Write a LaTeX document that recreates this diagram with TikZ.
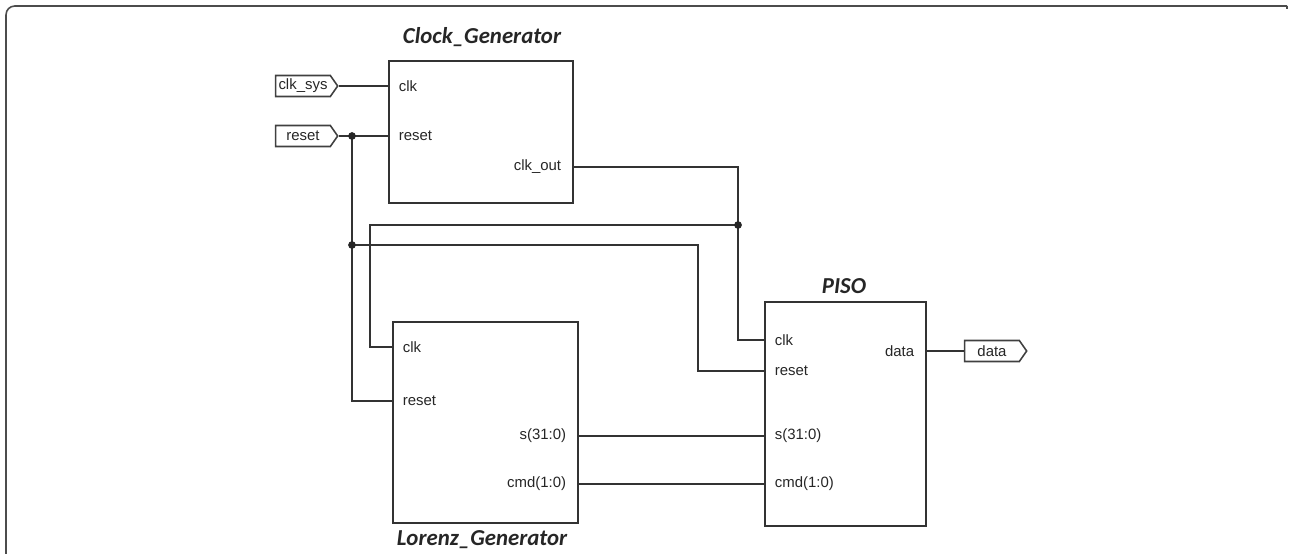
\documentclass[tikz,border=0pt]{standalone}
\usepackage{fontspec}
\setmainfont{Liberation Sans}
\newfontfamily\titlefont{Carlito}
\usepackage{tikz}
\usetikzlibrary{shapes.symbols,positioning,calc}
\tikzset{
  blk/.style={
    rectangle, draw=black!80, line width=1.1pt, anchor=north west,
    inner sep=0pt
  },
  blktitle/.style={font=\titlefont\bfseries\itshape\fontsize{13}{15}\selectfont, text=black!85},
  portl/.style={anchor=west, xshift=5pt, inner sep=1pt, font=\fontsize{8.5}{10}\selectfont, text=black!85},
  portr/.style={anchor=east, xshift=-5pt, inner sep=1pt, font=\fontsize{8.5}{10}\selectfont, text=black!85},
  iopad/.style={
    signal, signal to=east, signal pointer angle=110, draw=black!75, line width=0.9pt,
    minimum width=1.24cm, minimum height=0.42cm, inner sep=1pt,
    font=\fontsize{8.5}{10}\selectfont, text=black!85
  },
  wire/.style={draw=black!80, line width=0.9pt},
  jdot/.style={fill=black!85},
}
\begin{document}
\begin{tikzpicture}[x=0.02cm, y=-0.02cm]
  \useasboundingbox (0,0) rectangle (1289,554);
  % frame
  \draw[black!70, line width=0.9pt, rounded corners=5pt] (6,554) -- (6,6) -- (1287,6);
  \draw[black!70, line width=0.9pt] (1287,6) -- (1287,9);

  % blocks
  \node (cg)   [blk, minimum width=3.68cm, minimum height=2.84cm] at (388,60) {};
  \node (lg)   [blk, minimum width=3.70cm, minimum height=4.02cm] at (392,321) {};
  \node (piso) [blk, minimum width=3.22cm, minimum height=4.48cm] at (764,301) {};
  \node (cgt)   [blktitle] at (482,37)  {Clock\_Generator};
  \node (lgt)   [blktitle] at (482,540) {Lorenz\_Generator};
  \node (pisot) [blktitle] at (844,286) {PISO};

  % pins
  \coordinate (cg-clk) at (388,86);   \node (cg-clk-l) [portl] at (cg-clk) {clk};
  \coordinate (cg-rst) at (388,136);  \node (cg-rst-l) [portl] at (cg-rst) {reset};
  \coordinate (cg-out) at (572,167);  \node (cg-out-l) [portr] at (cg-out) {clk\_out};
  \coordinate (lg-clk) at (392,347);  \node (lg-clk-l) [portl] at (lg-clk) {clk};
  \coordinate (lg-rst) at (392,401);  \node (lg-rst-l) [portl] at (lg-rst) {reset};
  \coordinate (lg-s)   at (577,436);  \node (lg-s-l)   [portr] at (lg-s)   {s(31:0)};
  \coordinate (lg-cmd) at (577,484);  \node (lg-cmd-l) [portr] at (lg-cmd) {cmd(1:0)};
  \coordinate (piso-clk)  at (764,340);  \node (piso-clk-l)  [portl] at (piso-clk)  {clk};
  \coordinate (piso-rst)  at (764,371);  \node (piso-rst-l)  [portl] at (piso-rst)  {reset};
  \coordinate (piso-s)    at (764,436);  \node (piso-s-l)    [portl] at (piso-s)    {s(31:0)};
  \coordinate (piso-cmd)  at (764,484);  \node (piso-cmd-l)  [portl] at (piso-cmd)  {cmd(1:0)};
  \coordinate (piso-data) at (925,351);  \node (piso-data-l) [portr] at (piso-data) {data};

  % io pads
  \node (clksys) [iopad] at (303,86)  {clk\_sys};
  \node (rstin)  [iopad] at (303,136) {reset};
  \node (dout)   [iopad] at (992,351) {data};

  % nets
  \coordinate (j1) at (352,136);
  \coordinate (j2) at (352,245);
  \coordinate (j3) at (738,225);
  \draw[wire] (clksys.east) -- (cg-clk);
  \draw[wire] (rstin.east) -- (cg-rst);
  \draw[wire] (j1) |- (lg-rst);
  \draw[wire] (j2) -- ++(346,0) |- (piso-rst);
  \draw[wire] (cg-out) -| (j3);
  \draw[wire] (j3) |- (piso-clk);
  \draw[wire] (j3) -- ++(-368,0) |- (lg-clk);
  \draw[wire] (lg-s) -- (piso-s);
  \draw[wire] (lg-cmd) -- (piso-cmd);
  \draw[wire] (piso-data) -- (dout.west);
  \fill[jdot] (j1) circle (2.2pt);
  \fill[jdot] (j2) circle (2.2pt);
  \fill[jdot] (j3) circle (2.2pt);
\end{tikzpicture}
\end{document}
